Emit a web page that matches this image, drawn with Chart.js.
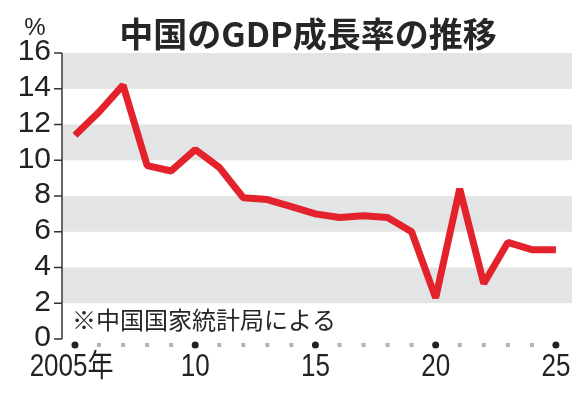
<!DOCTYPE html>
<html>
<head>
<meta charset="utf-8">
<script src="https://cdn.jsdelivr.net/npm/chart.js@4/dist/chart.umd.min.js"></script>
<style>
  body { margin: 0; background: #fff; }
  canvas { display: block; }
</style>
</head>
<body>
<canvas id="myChart" width="586" height="400"></canvas>
<script>
  const years = [2005, 2006, 2007, 2008, 2009, 2010, 2011, 2012, 2013, 2014, 2015,
                 2016, 2017, 2018, 2019, 2020, 2021, 2022, 2023, 2024, 2025];
  const growth = [11.4, 12.7, 14.2, 9.7, 9.4, 10.6, 9.6, 7.9, 7.8, 7.4, 7.0,
                  6.8, 6.9, 6.8, 6.0, 2.3, 8.4, 3.1, 5.4, 5.0, 5.0];
  const yTicks = [0, 2, 4, 6, 8, 10, 12, 14, 16];
  const xLabels = { 2005: '2005年', 2010: '10', 2015: '15', 2020: '20', 2025: '25' };
  const bands = [[2, 4], [6, 8], [10, 12], [14, 16]];

  const ctx = document.getElementById('myChart');

  // gray bands behind the line
  const bandsPlugin = {
    id: 'bands',
    beforeDatasetsDraw(chart) {
      const c = chart.ctx;
      const y = chart.scales.y;
      const a = chart.chartArea;
      c.save();
      c.fillStyle = '#e3e4e5';
      bands.forEach(b => {
        const top = y.getPixelForValue(b[1]);
        const bot = y.getPixelForValue(b[0]);
        c.fillRect(a.left + 1, top, a.right - a.left - 1, bot - top);
      });
      c.restore();
    }
  };

  // axis, ticks, labels, dots, texts
  const decoPlugin = {
    id: 'deco',
    afterDraw(chart) {
      const c = chart.ctx;
      const x = chart.scales.x;
      const y = chart.scales.y;
      const a = chart.chartArea;
      c.save();

      // y axis line and ticks
      c.strokeStyle = '#333';
      c.lineWidth = 1.5;
      c.beginPath();
      c.moveTo(a.left, y.getPixelForValue(16));
      c.lineTo(a.left, y.getPixelForValue(0));
      yTicks.forEach(v => {
        const py = y.getPixelForValue(v);
        c.moveTo(a.left - 8, py);
        c.lineTo(a.left, py);
      });
      c.stroke();

      c.fillStyle = '#222';
      c.font = '30px "Liberation Sans", sans-serif';
      c.textAlign = 'right';
      c.textBaseline = 'middle';
      yTicks.forEach(v => {
        c.fillText(String(v), 51, y.getPixelForValue(v) - 1);
      });

      c.font = '24px "Liberation Sans", sans-serif';
      c.textAlign = 'center';
      c.fillText('%', 35, 28);

      // x dots
      const dotY = 345;
      years.forEach(yr => {
        const px = x.getPixelForValue(yr);
        if (xLabels[yr]) {
          c.fillStyle = '#222';
          c.beginPath();
          c.arc(px, dotY, 3.5, 0, Math.PI * 2);
          c.fill();
        } else {
          c.fillStyle = '#b4b4b4';
          c.fillRect(px - 2, dotY - 2, 4, 4);
        }
      });

      // x labels (condensed)
      c.fillStyle = '#222';
      c.textBaseline = 'alphabetic';
      Object.keys(xLabels).forEach(k => {
        const px = x.getPixelForValue(Number(k));
        c.save();
        c.translate(px, 376);
        c.scale(0.84, 1);
        c.font = '31px "Liberation Sans", "Noto Sans CJK JP", sans-serif';
        c.textAlign = 'center';
        c.fillText(xLabels[k], Number(k) === 2005 ? -4 : 0, 0);
        c.restore();
      });

      // title
      c.font = 'bold 34px "Noto Sans CJK JP", sans-serif';
      c.textAlign = 'center';
      c.textBaseline = 'middle';
      c.fillStyle = '#262626';
      c.fillText('中国のGDP成長率の推移', 308, 34);

      // source note
      c.font = '24px "Noto Sans CJK JP", sans-serif';
      c.textAlign = 'left';
      c.fillText('※中国国家統計局による', 72, 320);

      c.restore();
    }
  };

  new Chart(ctx, {
    type: 'line',
    data: {
      labels: years,
      datasets: [{
        data: years.map((yr, i) => ({ x: yr, y: growth[i] })),
        borderColor: '#e3222b',
        borderWidth: 7,
        borderJoinStyle: 'bevel',
        borderCapStyle: 'butt',
        tension: 0,
        pointRadius: 0,
        fill: false,
        clip: false
      }]
    },
    options: {
      responsive: false,
      animation: false,
      devicePixelRatio: 1,
      layout: { padding: { left: 62, top: 53, right: 14, bottom: 61 } },
      plugins: { legend: { display: false }, tooltip: { enabled: false } },
      scales: {
        x: { type: 'linear', min: 2004.46, max: 2025.67, display: false },
        y: { min: 0, max: 16, display: false }
      }
    },
    plugins: [bandsPlugin, decoPlugin]
  });
</script>
</body>
</html>
